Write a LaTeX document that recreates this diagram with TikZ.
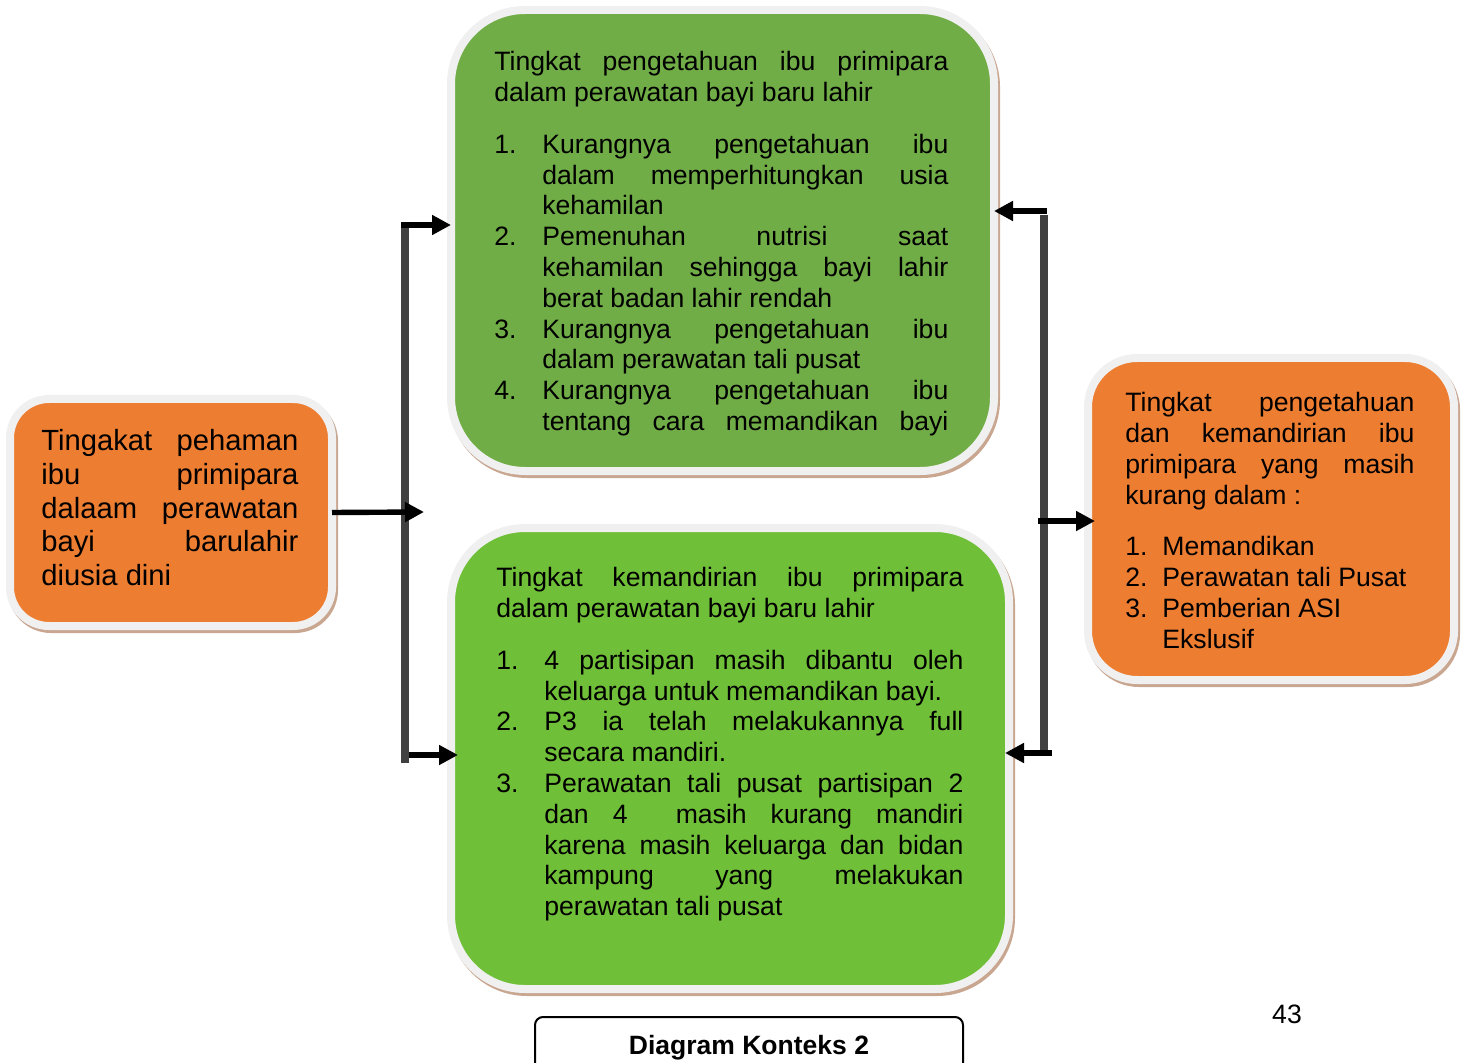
\documentclass[tikz,border=0pt]{standalone}
\usepackage{fontspec}
\setmainfont{Liberation Sans}
\usetikzlibrary{arrows.meta}
\definecolor{orangebox}{HTML}{ED7D31}
\definecolor{greentop}{HTML}{70AD47}
\definecolor{greenbot}{HTML}{70BF38}
\definecolor{rimgray}{HTML}{F0F0F0}
\definecolor{rimtan}{HTML}{C9A690}
\definecolor{trunkgray}{HTML}{404040}
\newlength{\itemind}
\newcommand{\numitem}[2]{\par\hangindent=\itemind\hangafter=1\noindent\makebox[\itemind][l]{#1}#2\par}
\tikzset{
  roundbox/.style={draw=rimgray, line width=4pt, outer sep=0pt, inner sep=0pt,
    preaction={draw=rimtan, line width=4pt, transform canvas={shift={(2,3)}}}},
  boxtext/.style={anchor=north west, inner sep=0pt, align=justify,
    font=\fontsize{13.3}{15.4}\selectfont, execute at begin node={\tolerance=10000\relax}},
  trunk/.style={draw=trunkgray, line width=4pt},
  arr/.style={-{Triangle[length=9.5pt,width=9.5pt]}, line width=2.7pt},
  capbox/.style={draw, line width=1pt, rounded corners=4pt, minimum width=214pt,
    minimum height=31pt, font=\bfseries\fontsize{13.25}{15}\selectfont}
}
\begin{document}
\begin{tikzpicture}[x=.5pt,y=-.5pt]
 \useasboundingbox (0,0) rectangle (1465,1063);
 % boxes
 \node[roundbox, fill=orangebox, rounded corners=19.5pt, minimum width=161pt, minimum height=113.5pt] (leftbox) at (171,512.5) {};
 \node[roundbox, fill=greentop, rounded corners=37pt, minimum width=271.5pt, minimum height=230.5pt] (topbox) at (722.5,240.5) {};
 \node[roundbox, fill=greenbot, rounded corners=37pt, minimum width=279pt, minimum height=230.5pt] (botbox) at (730,758.5) {};
 \node[roundbox, fill=orangebox, rounded corners=24.5pt, minimum width=183pt, minimum height=161pt] (rightbox) at (1271,519) {};
 % texts
 \node[boxtext, text width=128.5pt, font=\fontsize{14.6}{16.9}\selectfont] (lefttext) at (41,429)
   {Tingakat pehaman\linebreak ibu primipara\linebreak dalaam perawatan\linebreak bayi barulahir\linebreak diusia dini};
 \node[boxtext, text width=227pt] (toptext) at (494,51)
   {Tingkat pengetahuan ibu primipara\linebreak dalam perawatan bayi baru lahir\par\vspace{10.5pt}%
    \setlength{\itemind}{24pt}%
    \numitem{1.}{Kurangnya pengetahuan ibu\linebreak dalam memperhitungkan usia\linebreak kehamilan}%
    \numitem{2.}{Pemenuhan nutrisi saat\linebreak kehamilan sehingga bayi lahir\linebreak berat badan lahir rendah}%
    \numitem{3.}{Kurangnya pengetahuan ibu\linebreak dalam perawatan tali pusat}%
    \numitem{4.}{Kurangnya pengetahuan ibu\linebreak tentang cara memandikan bayi\parfillskip=0pt}};
 \node[boxtext, text width=233.5pt] (bottext) at (496,567)
   {Tingkat kemandirian ibu primipara\linebreak dalam perawatan bayi baru lahir\par\vspace{10.5pt}%
    \setlength{\itemind}{24pt}%
    \numitem{1.}{4 partisipan masih dibantu oleh\linebreak keluarga untuk memandikan bayi.}%
    \numitem{2.}{P3 ia telah melakukannya full\linebreak secara mandiri.}%
    \numitem{3.}{Perawatan tali pusat partisipan 2\linebreak dan 4 \ masih kurang mandiri\linebreak karena masih keluarga dan bidan\linebreak kampung yang melakukan\linebreak perawatan tali pusat}};
 \node[boxtext, text width=144.5pt] (righttext) at (1125,392)
   {Tingkat pengetahuan\linebreak dan kemandirian ibu\linebreak primipara yang masih\linebreak kurang dalam :\par\vspace{10.5pt}%
    \setlength{\itemind}{18.5pt}%
    \numitem{1.}{Memandikan}%
    \numitem{2.}{Perawatan tali Pusat}%
    \numitem{3.}{Pemberian ASI\newline Ekslusif}};
 % connectors
 \coordinate (ltop) at (405,222);
 \coordinate (lbot) at (405,763);
 \coordinate (ltopin) at (401,225);
 \coordinate (lbotin) at (409,755);
 \coordinate (lmid) at (424,512);
 \draw[trunk] (ltop) -- (lbot);
 \draw[arr] (leftbox.east) -- (lmid);
 \draw[arr] (ltopin) -- (ltopin -| topbox.west);
 \draw[arr] (lbotin) -- ([xshift=3.5pt]lbotin -| botbox.west);
 \coordinate (rtop) at (1044,215);
 \coordinate (rbot) at (1044,755);
 \coordinate (rtopin) at (1047,211);
 \coordinate (rbotin) at (1052,753);
 \coordinate (rmid) at (1038,521);
 \draw[trunk] (rtop) -- (rbot);
 \draw[arr] (rtopin) -- (rtopin -| topbox.east);
 \draw[arr] (rbotin) -- ([xshift=-2pt]rbotin -| botbox.east);
 \draw[arr] (rmid) -- ([xshift=3.5pt]rmid -| rightbox.west);
 % caption
 \node[capbox] (caption) at (749,1048) {Diagram Konteks 2};
 \node[font=\fontsize{13.3}{15}\selectfont] (pagenum) at (1287,1014) {43};
\end{tikzpicture}
\end{document}
